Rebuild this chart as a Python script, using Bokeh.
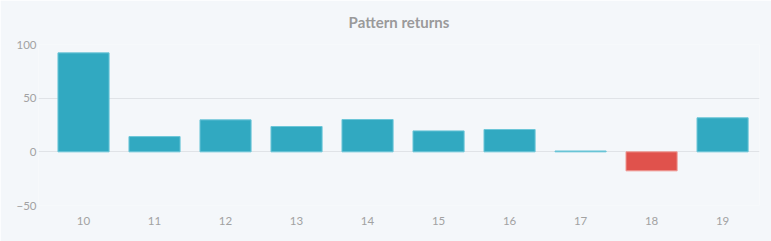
from bokeh.plotting import figure
from bokeh.models import ColumnDataSource, FixedTicker, Range1d
from bokeh.embed import file_html
from bokeh.resources import INLINE

categories = ["10", "11", "12", "13", "14", "15", "16", "17", "18", "19"]
returns = [92.2, 14.2, 29.8, 23.6, 30.1, 19.5, 20.8, 0.8, -17.7, 31.7]
y_ticks = [-50, 0, 50, 100]

BG = "#f4f7fa"
POS = "#31a9c1"
NEG = "#e0524c"

xs = list(range(len(categories)))
src = ColumnDataSource(dict(
    x=xs,
    top=returns,
    fill=[POS if v >= 0 else NEG for v in returns],
    line=["#6cc6d8" if v >= 0 else "#ef9893" for v in returns],
))

p = figure(width=771, height=241, output_backend="svg", toolbar_location=None,
           x_range=Range1d(-0.634, 9.52), y_range=Range1d(-50, 100),
           background_fill_color=BG, border_fill_color=BG,
           min_border_left=38, min_border_right=12, min_border_top=44, min_border_bottom=36,
           title="Pattern returns")
p.outline_line_color = None

p.title.align = "center"
p.title.vertical_align = "top"
p.title.offset = -13
p.title.standoff = 24
p.title.text_line_height = 1.0
p.title.text_color = "#9a9a9a"
p.title.text_font = "Lato"
p.title.text_font_size = "15px"
p.title.text_font_style = "bold"

p.vbar(x="x", top="top", bottom=0, width=0.72, fill_color="fill", line_color="line",
       line_width=1, source=src)

p.xaxis.ticker = FixedTicker(ticks=xs)
p.xaxis.major_label_overrides = {i: c for i, c in enumerate(categories)}
p.yaxis.ticker = FixedTicker(ticks=y_ticks)

for ax in (p.xaxis[0], p.yaxis[0]):
    ax.axis_line_color = None
    ax.major_tick_line_color = None
    ax.minor_tick_line_color = None
    ax.major_tick_out = 0
    ax.major_tick_in = 0
    ax.major_label_text_color = "#a2a2a2"
    ax.major_label_text_font = "Lato"
    ax.major_label_text_font_size = "11.5px"
p.yaxis.major_label_standoff = 2
p.xaxis.major_label_standoff = 11

p.xgrid.grid_line_color = None
p.ygrid.grid_line_color = "#e0e3e7"
p.ygrid.grid_line_width = 1

open("out.html", "w").write(file_html(p, INLINE))
